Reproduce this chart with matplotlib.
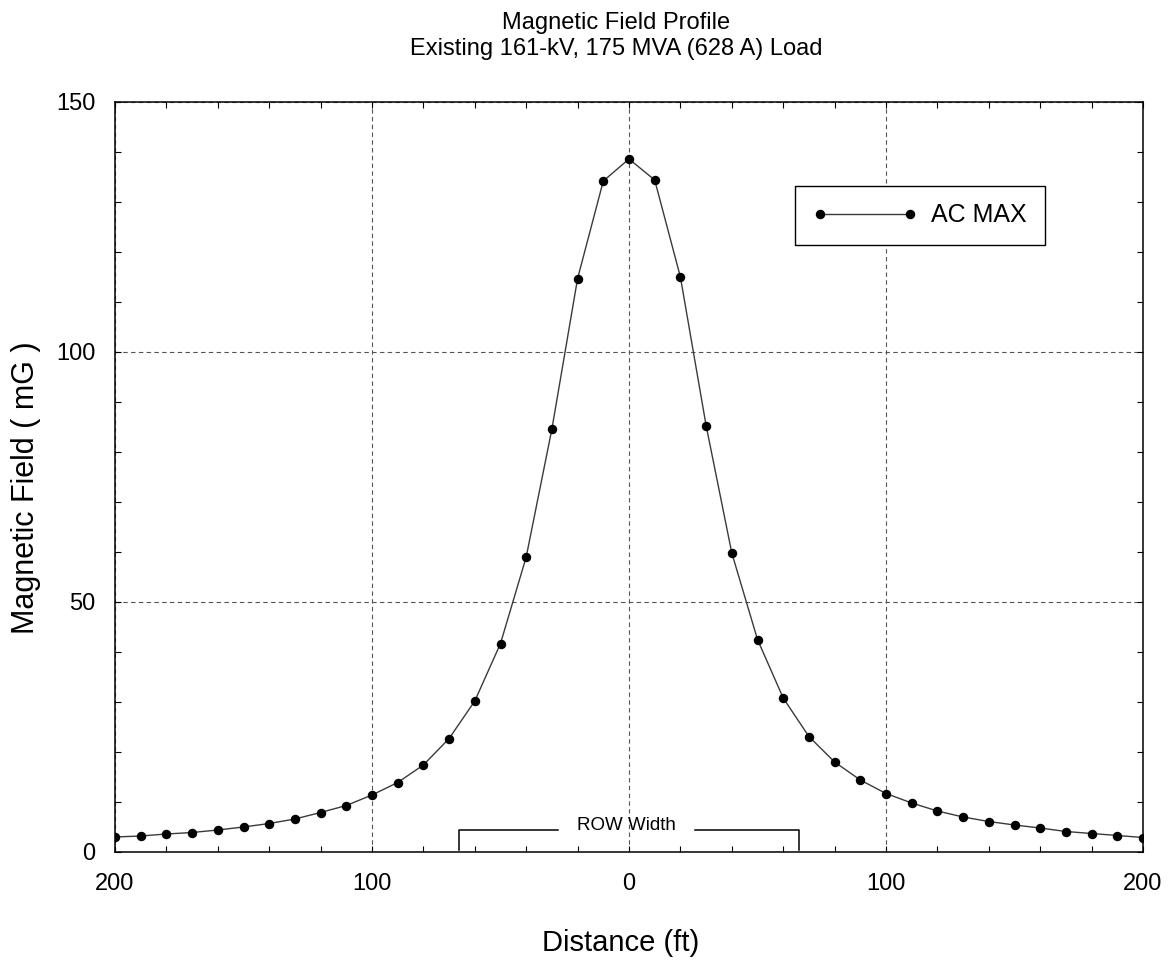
import matplotlib
matplotlib.use("Agg")
import matplotlib.pyplot as plt
from matplotlib.ticker import MultipleLocator, FixedLocator

plt.rcParams['font.family'] = ['Liberation Sans', 'DejaVu Sans']

# ---- data ----
distance_ft = [-200, -190, -180, -170, -160, -150, -140, -130, -120, -110,
               -100, -90, -80, -70, -60, -50, -40, -30, -20, -10,
               0, 10, 20, 30, 40, 50, 60, 70, 80, 90,
               100, 110, 120, 130, 140, 150, 160, 170, 180, 190, 200]
ac_max_mG = [3.0, 3.2, 3.6, 3.9, 4.4, 5.0, 5.7, 6.6, 7.9, 9.3,
             11.4, 13.9, 17.4, 22.7, 30.2, 41.7, 59.0, 84.6, 114.7, 134.2,
             138.6, 134.4, 115.0, 85.3, 59.8, 42.5, 30.8, 23.1, 18.0, 14.4,
             11.7, 9.8, 8.2, 7.0, 6.1, 5.4, 4.8, 4.1, 3.7, 3.3, 2.9]
x_ticks = [-200, -100, 0, 100, 200]
x_tick_labels = ['200', '100', '0', '100', '200']
y_ticks = [0, 50, 100, 150]
y_tick_labels = ['0', '50', '100', '150']
row_left, row_right = -66, 66
row_level = 4.4
row_gap_left, row_gap_right = -27.5, 25.5

title_text = "Magnetic Field Profile\nExisting 161-kV, 175 MVA (628 A) Load"

# ---- figure ----
fig = plt.figure(figsize=(11.73, 9.64), dpi=100)
ax = fig.add_axes([115/1173, 112/964, 1028/1173, 750/964])

ax.plot(distance_ft, ac_max_mG, color='#3a3a3a', lw=1.0, marker='o',
        markersize=5.8, markerfacecolor='black', markeredgecolor='black',
        label='AC MAX', zorder=3)

ax.set_xlim(-200, 200)
ax.set_ylim(0, 150)
ax.xaxis.set_major_locator(FixedLocator(x_ticks))
ax.set_xticklabels(x_tick_labels)
ax.yaxis.set_major_locator(FixedLocator(y_ticks))
ax.set_yticklabels(y_tick_labels)
ax.xaxis.set_minor_locator(MultipleLocator(20))
ax.yaxis.set_minor_locator(MultipleLocator(10))

ax.tick_params(which='both', direction='in', top=True, right=True,
               length=4, width=0.8, color='black')
ax.tick_params(axis='x', which='major', labelsize=17, pad=15)
ax.tick_params(axis='y', which='major', labelsize=17, pad=14)

ax.grid(True, which='major', color='#555555', lw=0.8, linestyle=(0, (4, 3)))
for s in ax.spines.values():
    s.set_linewidth(1.1)
    s.set_color('black')

# ROW width bracket
ax.plot([row_left, row_left, row_gap_left], [0.4, row_level, row_level],
        color='black', lw=1.1, zorder=2)
ax.plot([row_gap_right, row_right, row_right], [row_level, row_level, 0.4],
        color='black', lw=1.1, zorder=2)
ax.text((row_gap_left + row_gap_right) / 2, row_level + 0.9, 'ROW Width',
        ha='center', va='center', fontsize=13.5)

leg = ax.legend(loc='center', bbox_to_anchor=(0.783, 0.849), numpoints=2,
                fontsize=18, frameon=True, fancybox=False, shadow=False,
                handlelength=4.2, handletextpad=0.55, borderpad=0.7,
                edgecolor='black', framealpha=1)
leg.get_frame().set_linewidth(1.0)

fig.text(616/1173, 1 - 36/964, title_text, ha='center', va='center',
         fontsize=17, linespacing=1.2)
fig.text(621/1173, 1 - 943/964, 'Distance (ft)', ha='center', va='center',
         fontsize=21)
fig.text(26/1173, 1 - 488/964, 'Magnetic Field ( mG )', ha='center',
         va='center', rotation=90, fontsize=22)

fig.savefig('out.png', dpi=100)
